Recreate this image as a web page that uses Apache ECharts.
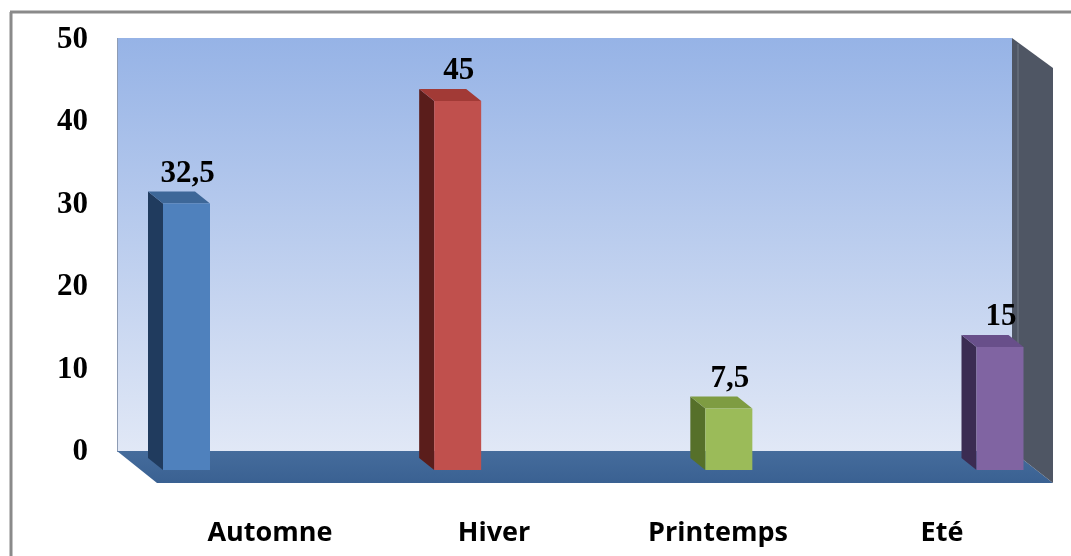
<!DOCTYPE html>
<html>
<head>
<meta charset="utf-8">
<script src="https://cdn.jsdelivr.net/npm/echarts@6/dist/echarts.min.js"></script>
<style>
html,body{margin:0;padding:0;background:#fff;}
#chart{width:1071px;height:556px;}
</style>
</head>
<body>
<div id="chart"></div>
<script>
// ---- data ----
const categories = ['Automne', 'Hiver', 'Printemps', 'Eté'];
const values = [32.5, 45, 7.5, 15];
const valueLabels = ['32,5', '45', '7,5', '15'];
const yTicks = [0, 10, 20, 30, 40, 50];

// ---- styles ----
const barColors = [
  {front: '#4f81bd', side: '#203b5e', top: '#3d6798'},
  {front: '#c0504d', side: '#5a1d1b', top: '#a23a36'},
  {front: '#9bbb59', side: '#56702a', top: '#7e9c42'},
  {front: '#8064a2', side: '#3b2c52', top: '#684f8a'}
];

const chart = echarts.init(document.getElementById('chart'), null, {renderer: 'canvas'});

const HALF_W = 23.5, DX = 15, DY = 12;

function renderBar(params, api) {
  const i = api.value(0);
  const v = api.value(1);
  const base = api.coord([i, 0]);
  const top = api.coord([i, v]);
  const cx = base[0];
  const c = barColors[i];
  const xl = cx - HALF_W, xr = cx + HALF_W;
  const yb = base[1], yt = top[1];
  return {
    type: 'group',
    children: [
      {type: 'polygon', shape: {points: [[xl, yt], [xl - DX, yt - DY], [xl - DX, yb - DY], [xl, yb]]},
        style: {fill: c.side}},
      {type: 'polygon', shape: {points: [[xl, yt], [xr, yt], [xr - DX, yt - DY], [xl - DX, yt - DY]]},
        style: {fill: c.top}},
      {type: 'rect', shape: {x: xl, y: yt, width: xr - xl, height: yb - yt},
        style: {fill: c.front}},
      {type: 'text', x: cx + 1, y: yt - 30,
        style: {text: valueLabels[i], fill: '#000', font: 'bold 31px "Liberation Serif", "Times New Roman", serif',
          align: 'center', verticalAlign: 'middle'}}
    ]
  };
}

const option = {
  animation: false,
  backgroundColor: '#ffffff',
  graphic: [
    // back wall
    {type: 'rect', z: -10, shape: {x: 117, y: 38, width: 895, height: 414},
      style: {fill: new echarts.graphic.LinearGradient(0, 0, 0, 1, [
        {offset: 0, color: '#96b3e6'}, {offset: 1, color: '#e1e8f6'}])}},
    {type: 'line', z: -9, shape: {x1: 117.5, y1: 38, x2: 117.5, y2: 452},
      style: {stroke: '#8e9cb4', lineWidth: 1}},
    // floor
    {type: 'polygon', z: -8, shape: {points: [[117, 451], [1012, 451], [1053, 483], [157, 483]]},
      style: {fill: new echarts.graphic.LinearGradient(0, 0, 0, 1, [
        {offset: 0, color: '#456c9c'}, {offset: 1, color: '#3a6192'}])}},
    // right side wall
    {type: 'polygon', z: -8, shape: {points: [[1012, 38], [1053, 68], [1053, 483], [1012, 451]]},
      style: {fill: '#4f5664'}},
    {type: 'line', z: -7, shape: {x1: 1018, y1: 44, x2: 1018, y2: 455},
      style: {stroke: '#606875', lineWidth: 2}},
    // outer frame
    {type: 'line', z: 10, shape: {x1: 10, y1: 12, x2: 1071, y2: 12},
      style: {stroke: '#8a8a8a', lineWidth: 3}},
    {type: 'line', z: 10, shape: {x1: 11, y1: 12, x2: 11, y2: 556},
      style: {stroke: '#8a8a8a', lineWidth: 3}}
  ],
  grid: [
    {left: 158, right: 17, top: 40, bottom: 104},
    {left: 186.5, right: 71, top: 60, bottom: 86}
  ],
  xAxis: [
    {gridIndex: 0, type: 'category', data: categories, boundaryGap: true,
      axisLine: {show: false}, axisTick: {show: false}, splitLine: {show: false},
      axisLabel: {margin: 81, verticalAlign: 'middle', color: '#000',
        fontFamily: '"Open Sans", sans-serif', fontWeight: 'bold', fontSize: 27}},
    {gridIndex: 1, type: 'category', data: categories, boundaryGap: false, show: false}
  ],
  yAxis: [
    {gridIndex: 0, type: 'value', min: 0, max: 50, interval: 10,
      axisLine: {show: false}, axisTick: {show: false}, splitLine: {show: false},
      axisLabel: {margin: 70, color: '#000', fontFamily: '"Liberation Serif", "Times New Roman", serif',
        fontWeight: 'bold', fontSize: 31, customValues: yTicks}},
    {gridIndex: 1, type: 'value', min: 0, max: 50, show: false}
  ],
  series: [
    {type: 'custom', xAxisIndex: 1, yAxisIndex: 1, renderItem: renderBar,
      data: values.map((v, i) => [i, v]), encode: {x: 0, y: 1}, z: 5}
  ]
};
chart.setOption(option);
</script>
</body>
</html>
